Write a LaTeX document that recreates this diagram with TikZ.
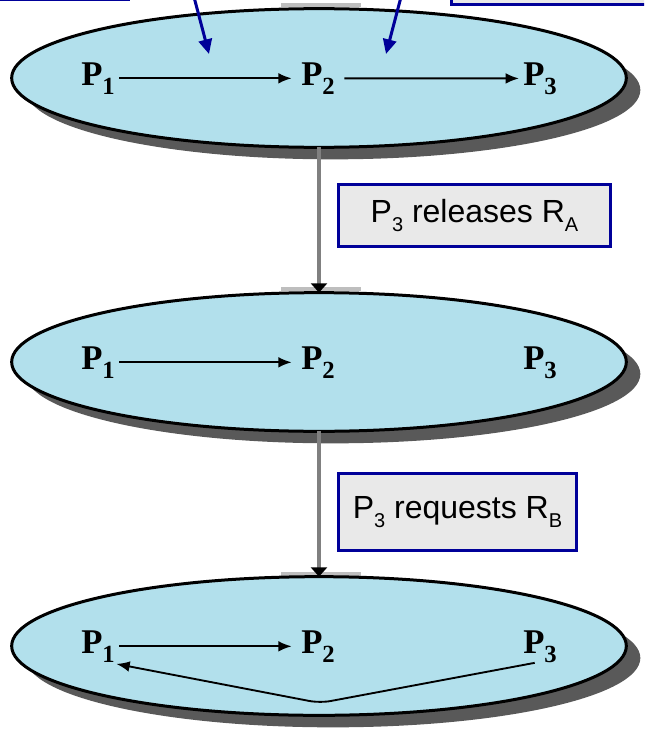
\documentclass[tikz,border=0pt]{standalone}
\usepackage{fontspec}
\setmainfont{Liberation Serif}
\newfontfamily\arialf{Liberation Sans}
\usetikzlibrary{shapes.geometric,arrows.meta,shadows}
\definecolor{ellfill}{RGB}{178,224,236}
\definecolor{shgray}{RGB}{89,89,89}
\definecolor{dblue}{RGB}{0,0,153}
\definecolor{boxgray}{RGB}{233,233,233}
\definecolor{conngray}{RGB}{128,128,128}
\definecolor{hatgray}{RGB}{190,190,190}
\newcommand\psub[1]{\raisebox{-7pt}{\fontsize{18.5pt}{18.5pt}\selectfont #1}}
\newcommand\bsub[1]{\raisebox{-6.5pt}{\fontsize{15pt}{15pt}\selectfont #1}}
\tikzset{
  ell/.style={ellipse, draw=black, line width=2.25pt, fill=ellfill,
    minimum width=461pt, minimum height=104pt, inner sep=0pt, outer sep=0pt,
    drop shadow={shadow xshift=10.5pt, shadow yshift=-9pt, fill=shgray, opacity=1}},
  plabel/.style={font=\bfseries\fontsize{26pt}{26pt}\selectfont, inner sep=3pt, anchor=base west},
  parr/.style={-{Latex[length=10pt,width=8pt]}, line width=1.4pt},
  conn/.style={draw=conngray, line width=3.5pt, -{Triangle[length=7pt,width=12pt,color=black]}},
  tbox/.style={draw=dblue, line width=2.25pt, fill=boxgray, inner sep=0pt,
    font=\arialf\fontsize{24pt}{24pt}\selectfont},
  barr/.style={draw=dblue, line width=2.25pt, -{Triangle[length=11pt,width=10pt]}},
  hat/.style={draw=hatgray, line width=2.5pt}
}
\begin{document}
\begin{tikzpicture}[x=0.75pt,y=-0.75pt]
\useasboundingbox (0,0) rectangle (644,735);
\clip (0,0) rectangle (644,735);
% light grey bars above ellipse tops
\draw[hat] (281,5) -- (361,5);
\draw[hat] (281,289) -- (361,289);
\draw[hat] (281,574) -- (361,574);
% ellipses
\node[ell] (e1) at (319,78) {};
\node[ell] (e2) at (319,362) {};
\node[ell] (e3) at (319,646) {};
% labels ellipse 1
\node[plabel] (a1) at (77,85) {P\psub{1}};
\node[plabel] (a2) at (297,85) {P\psub{2}};
\node[plabel] (a3) at (519,85) {P\psub{3}};
\draw[parr, shorten >=4pt] (a1.east) -- (a2.west);
\draw[parr, shorten <=4pt] (a2.east) -- (a3.west);
% labels ellipse 2
\node[plabel] (b1) at (77,369) {P\psub{1}};
\node[plabel] (b2) at (297,369) {P\psub{2}};
\node[plabel] (b3) at (519,369) {P\psub{3}};
\draw[parr, shorten >=4pt] (b1.east) -- (b2.west);
% labels ellipse 3
\node[plabel] (c1) at (77,653) {P\psub{1}};
\node[plabel] (c2) at (297,653) {P\psub{2}};
\node[plabel] (c3) at (519,653) {P\psub{3}};
\draw[parr, shorten >=4pt] (c1.east) -- (c2.west);
\coordinate (v) at (320,703);
\draw[parr, rounded corners=8pt] ([xshift=-4pt,yshift=3pt]c3.south) -- (v) -- ([xshift=-2pt,yshift=2pt]c1.south east);
% connectors between ellipses
\draw[conn] (e1.south) -- (e2.north);
\draw[conn] (e2.south) -- (e3.north);
% event boxes
\node[tbox, minimum width=204pt, minimum height=47pt] (r1) at (474.5,215.5) {P\bsub{3} releases R\bsub{A}};
\node[tbox, minimum width=179pt, minimum height=58pt] (r2) at (457.5,512) {P\bsub{3} requests R\bsub{B}};
% partial boxes at the top
\node[tbox, anchor=south east, minimum width=200pt, minimum height=60pt] (t1) at (130,1.5) {};
\node[tbox, anchor=south west, minimum width=200pt, minimum height=60pt] (t2) at (450,6.5) {};
% blue arrows into the top ellipse
\coordinate (s1) at (194,-3);
\coordinate (s2) at (401,-3);
\coordinate (d1) at (209,54);
\coordinate (d2) at (386,54);
\draw[barr] (s1) -- (d1);
\draw[barr] (s2) -- (d2);
\end{tikzpicture}
\end{document}
